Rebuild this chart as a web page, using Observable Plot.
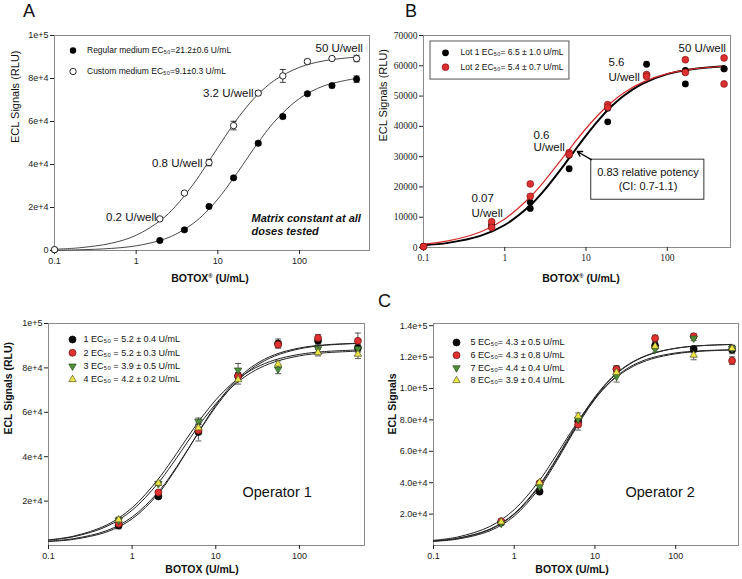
<!DOCTYPE html>
<html><head><meta charset="utf-8">
<script src="https://cdn.jsdelivr.net/npm/d3@7"></script>
<script src="https://cdn.jsdelivr.net/npm/@observablehq/plot@0.6"></script>
<style>
html,body{margin:0;padding:0;background:#fff;}
#root{position:relative;width:742px;height:579px;overflow:hidden;font-family:"Liberation Sans",Arial,sans-serif;color:#111;background:#fff;}
.lbl{position:absolute;white-space:nowrap;line-height:14px;}
.ctr{transform:translateX(-50%);}
sup{font-size:55%;vertical-align:top;position:relative;top:-2px;}
</style></head><body><div id="root"></div>
<script>
// ---------------- DATA ----------------
const curveDose = [0.1,0.2,0.5,1,2,3,5,7,10,15,20,30,50,100,200,500];

// Panel A
const doseA = [0.1,1.95,3.9,7.8,15.6,31.25,62.5,125,250,500];
const regularA = [300,4650,9600,20500,33800,49900,62300,72900,76700,79700];
const regularErrA = [0,300,700,500,800,800,1000,700,1000,1500];
const customA = [400,14700,26700,40900,58100,73200,81200,87900,89300,89300];
const customErrA = [0,400,500,1500,2000,1000,3000,1000,800,1500];
const regularFitA = [147,334,976,2170,4770,7420,12600,17450,23900,32800,39600,49300,60160,70700,76600,80080];
const customFitA = [581,1250,3400,7080,14090,20360,30800,38860,47900,57900,64360,72050,79270,85190,88230,89990];
const legendA = ["Regular medium EC\u2085\u2080=21.2\u00b10.6 U/mL","Custom medium EC\u2085\u2080=9.1\u00b10.3 U/mL"];
const xTicks = [0.1,1,10,100];
const xTickLabels = ["0.1","1","10","100"];
const yTicksA = [0,20000,40000,60000,80000,100000];
const yTickLabelsA = ["0","2e+4","4e+4","6e+4","8e+4","1e+5"];

// Panel B
const doseB = [0.1,0.69,2.06,6.2,18.5,55.6,167,500];
const lot1RepA = [300,7000,14900,26000,41500,60500,54000,59000];
const lot1RepB = [300,7500,12900,30500,46000,57000,58500,59000];
const lot2RepA = [300,8500,21000,31300,47200,57100,62000,62600];
const lot2RepB = [300,6600,16900,30700,46300,56500,57800,54000];
const lot1FitB = [746,1524,3830,7430,13600,18600,26100,31430,36960,42720,46290,50370,54140,57250,58880,59870];
const lot2FitB = [1100,2160,5130,9450,16350,21610,29090,34160,39290,44490,47640,51270,54600,57400,58910,59850];
const legendB = ["Lot 1 EC\u2085\u2080= 6.5 \u00b1 1.0 U/mL","Lot 2 EC\u2085\u2080= 5.4 \u00b1 0.7 U/mL"];
const yTicksB = [0,10000,20000,30000,40000,50000,60000,70000];
const yTickLabelsB = ["0","10000","20000","30000","40000","50000","60000","70000"];

// Operator panels
const doseOp = [0.69,2.06,6.2,18.5,55.6,167,500];
const run1 = [9000,22100,51100,76300,91000,92200,89000];
const err1 = [1500,800,4000,1500,2000,1500,1500];
const run2 = [9800,23900,51900,76400,90500,93500,92200];
const err2 = [1500,800,1500,1500,1500,1500,3500];
const run3 = [11300,27800,55900,79000,79400,88600,88600];
const err3 = [1500,800,1500,3000,2000,1500,1500];
const run4 = [11600,28100,53000,74700,81700,86900,86200];
const err4 = [1000,800,1500,2000,1500,1500,2000];
const fit1 = [1783,2778,6142,11996,22807,31824,45190,54235,63157,71675,76505,81645,85888,88967,90380,91124];
const fit2 = [1953,3085,6731,12830,23625,32380,45233,53893,62523,70830,75652,80849,85257,88583,90160,91027];
const fit3 = [2530,4217,9278,17005,29372,38489,50716,58339,65576,72312,76069,80114,83516,86100,87364,88082];
const fit4 = [2403,3959,8645,15897,27687,36525,48671,56414,63816,70790,74760,79020,82652,85425,86777,87550];
const legendOp1 = ["1 EC\u2085\u2080 = 5.2 \u00b1 0.4 U/mL","2 EC\u2085\u2080 = 5.2 \u00b1 0.3 U/mL","3 EC\u2085\u2080 = 3.9 \u00b1 0.5 U/mL","4 EC\u2085\u2080 = 4.2 \u00b1 0.2 U/mL"];
const yTicksOp1 = [20000,40000,60000,80000,100000];
const yTickLabelsOp1 = ["2e+4","4e+4","6e+4","8e+4","1e+5"];

const run5 = [14700,34300,79200,112300,127300,125100,124700];
const err5 = [800,1000,2000,2000,2000,2000,2500];
const run6 = [15500,39700,77000,112300,132000,133300,117700];
const err6 = [800,1000,3500,2000,2000,1500,2500];
const run7 = [14000,37500,80300,107600,125100,132000,125500];
const err7 = [800,1000,2000,3500,2000,1500,2000];
const run8 = [15000,40100,82400,110200,126900,121300,125500];
const err8 = [800,1000,2000,2000,2000,3000,2000];
const fit5 = [2614,4117,9361,18701,35806,49610,69097,81539,93151,103617,109247,115001,119512,122633,123993,124677];
const fit6 = [2877,4628,10437,20315,37786,51539,70748,83067,94677,105360,111191,117270,122154,125657,127249,128080];
const fit7 = [2840,4546,10211,19853,37074,50706,69890,82237,93998,104836,110775,116976,121982,125578,127214,128068];
const fit8 = [3300,5427,12128,22845,40644,54008,72007,83261,93733,103373,108649,114213,118761,122105,123680,124536];
const legendOp2 = ["5 EC\u2085\u2080= 4.3 \u00b1 0.5 U/mL","6 EC\u2085\u2080= 4.3 \u00b1 0.8 U/mL","7 EC\u2085\u2080= 4.4 \u00b1 0.4 U/mL","8 EC\u2085\u2080= 3.9 \u00b1 0.4 U/mL"];
const yTicksOp2 = [20000,40000,60000,80000,100000,120000,140000];
const yTickLabelsOp2 = ["2.0e+4","4.0e+4","6.0e+4","8.0e+4","1.0e+5","1.2e+5","1.4e+5"];

// ---------------- HELPERS ----------------
const SANS = "Liberation Sans, Arial, sans-serif";
const SERIF = "Liberation Serif, Times New Roman, serif";
const root = document.getElementById("root");
function pts(xs, ys, es) { return xs.map((x, i) => ({x, y: ys[i], e: es ? es[i] : 0})); }
const capSym = {draw(c, s) { const r = Math.sqrt(s / Math.PI); c.moveTo(-r, 0); c.lineTo(r, 0); }};
const triDown = {draw(c, s) { const r = Math.sqrt(s / Math.PI) * 1.3; c.moveTo(0, r); c.lineTo(-r * 0.866, -r * 0.5); c.lineTo(r * 0.866, -r * 0.5); c.closePath(); }};
const triUp = {draw(c, s) { const r = Math.sqrt(s / Math.PI) * 1.3; c.moveTo(0, -r); c.lineTo(r * 0.866, r * 0.5); c.lineTo(-r * 0.866, r * 0.5); c.closePath(); }};

function errMarks(data, color) {
  const d = data.filter(p => p.e > 0);
  return [
    Plot.ruleX(d, {x: "x", y1: p => p.y - p.e, y2: p => p.y + p.e, stroke: color, strokeWidth: 0.8}),
    Plot.dot(d, {x: "x", y: p => p.y + p.e, symbol: capSym, r: 3, stroke: color, strokeWidth: 0.8}),
    Plot.dot(d, {x: "x", y: p => p.y - p.e, symbol: capSym, r: 3, stroke: color, strokeWidth: 0.8})
  ];
}
function axes(yt, yl, font, fs) {
  return [
    Plot.axisX({ticks: xTicks, tickFormat: d => xTickLabels[xTicks.indexOf(d)], tickSize: 4, tickPadding: 3, label: null, fontFamily: font, fontSize: fs}),
    Plot.axisY({ticks: yt, tickFormat: d => yl[yt.indexOf(d)], tickSize: 4, tickPadding: 2, label: null, fontFamily: font, fontSize: fs})
  ];
}
function ftext(str, o) {
  return Plot.text([str], {frameAnchor: "top-left", lineAnchor: "middle", text: d => d, textAnchor: "start", fill: "#111", ...o});
}
function ytitle(str, dx, bold) {
  return Plot.text([str], {frameAnchor: "left", dx, rotate: -90, text: d => d, fontSize: bold ? 10.5 : 11, fontWeight: bold ? "bold" : "normal", fill: "#111", fontFamily: SANS});
}
function place(svg, left, top) {
  svg.style.position = "absolute"; svg.style.left = left + "px"; svg.style.top = top + "px";
  root.appendChild(svg);
}
function label(html, left, top, css) {
  const d = document.createElement("div");
  d.className = "lbl" + (css.center ? " ctr" : "");
  d.innerHTML = html;
  d.style.left = left + "px"; d.style.top = top + "px";
  d.style.fontSize = css.size + "px";
  if (css.bold) d.style.fontWeight = "bold";
  root.appendChild(d);
}

// ---------------- PANEL A ----------------
const regPts = pts(doseA, regularA, regularErrA);
const cusPts = pts(doseA, customA, customErrA);
const plotA = Plot.plot({
  width: 371, height: 290, marginLeft: 54, marginRight: 2, marginTop: 35, marginBottom: 40,
  x: {type: "log", domain: [0.1, 720]},
  y: {domain: [0, 100000]},
  style: {fontFamily: SANS, fontSize: "9px", color: "#222", background: "transparent", overflow: "visible"},
  marks: [
    Plot.frame({stroke: "#8a8a8a"}),
    ...axes(yTicksA, yTickLabelsA, SANS, 9),
    Plot.line(pts(curveDose, regularFitA), {x: "x", y: "y", stroke: "#333", strokeWidth: 0.9, curve: "catmull-rom"}),
    Plot.line(pts(curveDose, customFitA), {x: "x", y: "y", stroke: "#333", strokeWidth: 0.9, curve: "catmull-rom"}),
    ...errMarks(regPts, "#111"),
    ...errMarks(cusPts, "#111"),
    Plot.dot(regPts, {x: "x", y: "y", r: 3.2, fill: "#000", stroke: "#000", strokeWidth: 0.6}),
    Plot.dot(cusPts, {x: "x", y: "y", r: 3.2, fill: "#fff", stroke: "#111", strokeWidth: 0.9}),
    Plot.dot([0], {frameAnchor: "top-left", dx: 18.5, dy: 15, r: 3.2, fill: "#000"}),
    Plot.dot([0], {frameAnchor: "top-left", dx: 18.5, dy: 36, r: 3.2, fill: "#fff", stroke: "#111", strokeWidth: 0.9}),
    ftext(legendA[0], {dx: 32.5, dy: 14.5, fontSize: 8.5}),
    ftext(legendA[1], {dx: 32.5, dy: 36, fontSize: 8.5}),
    ftext("0.2 U/well", {dx: 102, dy: 182, textAnchor: "end", fontSize: 11.5}),
    ftext("0.8 U/well", {dx: 148, dy: 128, textAnchor: "end", fontSize: 11.5}),
    ftext("3.2 U/well", {dx: 199, dy: 58, textAnchor: "end", fontSize: 11.5}),
    ftext("50 U/well", {dx: 261, dy: 13, fontSize: 11.5}),
    ftext("Matrix constant at all", {dx: 197, dy: 183, fontSize: 11, fontWeight: "bold", fontStyle: "italic"}),
    ftext("doses tested", {dx: 197, dy: 196, fontSize: 11, fontWeight: "bold", fontStyle: "italic"}),
    ytitle("ECL Signals (RLU)", -39, false)
  ]
});
place(plotA, 0, 0);

// ---------------- PANEL B ----------------
const lot1Pts = [...pts(doseB, lot1RepA), ...pts(doseB, lot1RepB)];
const lot2Pts = [...pts(doseB, lot2RepA), ...pts(doseB, lot2RepB)];
const potencyBox = {x1: 11.6, x2: 286, y1: 15770, y2: 29000};
const legendBoxB = {x1: 0.122, x2: 6.25, y1: 55450, y2: 68020};
const potencyArrow = {x1: 11.6, y1: 29000, x2: 7.8, y2: 31700};
const plotB = Plot.plot({
  width: 371, height: 290, marginLeft: 52, marginRight: 12, marginTop: 35, marginBottom: 43,
  x: {type: "log", domain: [0.1, 600]},
  y: {domain: [0, 70000]},
  style: {fontFamily: SANS, fontSize: "9px", color: "#222", background: "transparent", overflow: "visible"},
  marks: [
    Plot.frame({stroke: "#8a8a8a"}),
    ...axes(yTicksB, yTickLabelsB, SERIF, 9.5),
    Plot.line(pts(curveDose, lot1FitB), {x: "x", y: "y", stroke: "#000", strokeWidth: 2, curve: "catmull-rom"}),
    Plot.line(pts(curveDose, lot2FitB), {x: "x", y: "y", stroke: "#d42a2a", strokeWidth: 1.2, curve: "catmull-rom"}),
    Plot.dot(lot1Pts, {x: "x", y: "y", r: 3.4, fill: "#000"}),
    Plot.dot(lot2Pts, {x: "x", y: "y", r: 3.4, fill: "#dc3030", stroke: "#8a1616", strokeWidth: 0.7}),
    Plot.rect([legendBoxB], {x1: "x1", x2: "x2", y1: "y1", y2: "y2", fill: "#fff", stroke: "#444", strokeWidth: 0.9}),
    Plot.dot([0], {frameAnchor: "top-left", dx: 22, dy: 17.3, r: 3.4, fill: "#000"}),
    Plot.dot([0], {frameAnchor: "top-left", dx: 22, dy: 31.7, r: 3.4, fill: "#dc3030", stroke: "#8a1616", strokeWidth: 0.7}),
    ftext(legendB[0], {dx: 37, dy: 17, fontSize: 8.5}),
    ftext(legendB[1], {dx: 37, dy: 31.5, fontSize: 8.5}),
    Plot.rect([potencyBox], {x1: "x1", x2: "x2", y1: "y1", y2: "y2", fill: "#fff", stroke: "#333", strokeWidth: 1}),
    Plot.arrow([potencyArrow], {x1: "x1", y1: "y1", x2: "x2", y2: "y2", stroke: "#000", strokeWidth: 1.3, headLength: 7}),
    ftext("0.83 relative potency", {dx: 224.5, dy: 137, textAnchor: "middle", fontSize: 11}),
    ftext("(CI: 0.7-1.1)", {dx: 224.5, dy: 151, textAnchor: "middle", fontSize: 11}),
    ftext("0.07", {dx: 48, dy: 163, fontSize: 11.5}),
    ftext("U/well", {dx: 48, dy: 178, fontSize: 11.5}),
    ftext("0.6", {dx: 110, dy: 100, fontSize: 11.5}),
    ftext("U/well", {dx: 110, dy: 112, fontSize: 11.5}),
    ftext("5.6", {dx: 185, dy: 27, fontSize: 11.5}),
    ftext("U/well", {dx: 185, dy: 42, fontSize: 11.5}),
    ftext("50 U/well", {dx: 255, dy: 13, fontSize: 11.5}),
    ytitle("ECL Signals (RLU)", -40, false)
  ]
});
place(plotB, 371, 0);

// ---------------- OPERATOR PANELS ----------------
const runStyles = [
  {fill: "#0a0a0a", stroke: "#000", symbol: "circle", r: 3.5},
  {fill: "#e03030", stroke: "#6a1010", symbol: "circle", r: 3.5},
  {fill: "#4e8f3a", stroke: "#2d4d20", symbol: triDown, r: 3.3},
  {fill: "#ece544", stroke: "#55552a", symbol: triUp, r: 3.3}
];
function opPanel(cfg) {
  const sets = cfg.runs.map((r, i) => pts(doseOp, r, cfg.errs[i]));
  const marks = [
    Plot.frame({stroke: "#8a8a8a"}),
    ...axes(cfg.yt, cfg.yl, SANS, 9),
    ...cfg.fits.map(f => Plot.line(pts(curveDose, f), {x: "x", y: "y", stroke: "#222", strokeWidth: 1, curve: "catmull-rom"})),
    ...sets.flatMap(s => errMarks(s, "#333")),
    ...sets.map((s, i) => Plot.dot(s, {x: "x", y: "y", r: runStyles[i].r, fill: runStyles[i].fill, stroke: runStyles[i].stroke, strokeWidth: 0.7, symbol: runStyles[i].symbol})),
    ...cfg.legend.flatMap((t, i) => [
      Plot.dot([0], {frameAnchor: "top-left", dx: cfg.symDx, dy: cfg.dys[i], r: runStyles[i].r, fill: runStyles[i].fill, stroke: runStyles[i].stroke, strokeWidth: 0.7, symbol: runStyles[i].symbol}),
      ftext(t, {dx: cfg.textDx, dy: cfg.dys[i], fontSize: 9})
    ]),
    ftext(cfg.name, {dx: cfg.nameDx, dy: 169, fontSize: 14.5}),
    ytitle(cfg.ytitle, cfg.ytDx, true)
  ];
  return Plot.plot({
    width: 371, height: 289, marginLeft: cfg.ml, marginRight: cfg.mr, marginTop: 33, marginBottom: 34,
    x: {type: "log", domain: [0.1, 600]},
    y: {domain: cfg.ydom},
    style: {fontFamily: SANS, fontSize: "9px", color: "#222", background: "transparent", overflow: "visible"},
    marks
  });
}
place(opPanel({
  runs: [run1, run2, run3, run4], errs: [err1, err2, err3, err4], fits: [fit1, fit2, fit3, fit4],
  legend: legendOp1, yt: yTicksOp1, yl: yTickLabelsOp1, ydom: [0, 100000],
  ml: 48, mr: 7, symDx: 24, textDx: 35, dys: [16, 29.3, 42.7, 56], name: "Operator 1", nameDx: 194,
  ytitle: "ECL Signals (RLU)", ytDx: -39.5
}), 0, 290);
place(opPanel({
  runs: [run5, run6, run7, run8], errs: [err5, err6, err7, err8], fits: [fit5, fit6, fit7, fit8],
  legend: legendOp2, yt: yTicksOp2, yl: yTickLabelsOp2, ydom: [0, 141400],
  ml: 62, mr: 4, symDx: 23, textDx: 37, dys: [19, 31.7, 44.4, 57], name: "Operator 2", nameDx: 192,
  ytitle: "ECL Signals", ytDx: -41
}), 371, 290);

// ---------------- TITLES ----------------
label("A", 23, 4, {size: 18});
label("B", 405, 4, {size: 18});
label("C", 378, 294, {size: 18});
label("BOTOX<sup>\u00ae</sup> (U/mL)", 210, 271, {size: 10.5, bold: true, center: true});
label("BOTOX<sup>\u00ae</sup> (U/mL)", 581, 271, {size: 10.5, bold: true, center: true});
label("BOTOX (U/mL)", 202, 562, {size: 10.5, bold: true, center: true});
label("BOTOX (U/mL)", 572, 562, {size: 10.5, bold: true, center: true});
</script></body></html>
